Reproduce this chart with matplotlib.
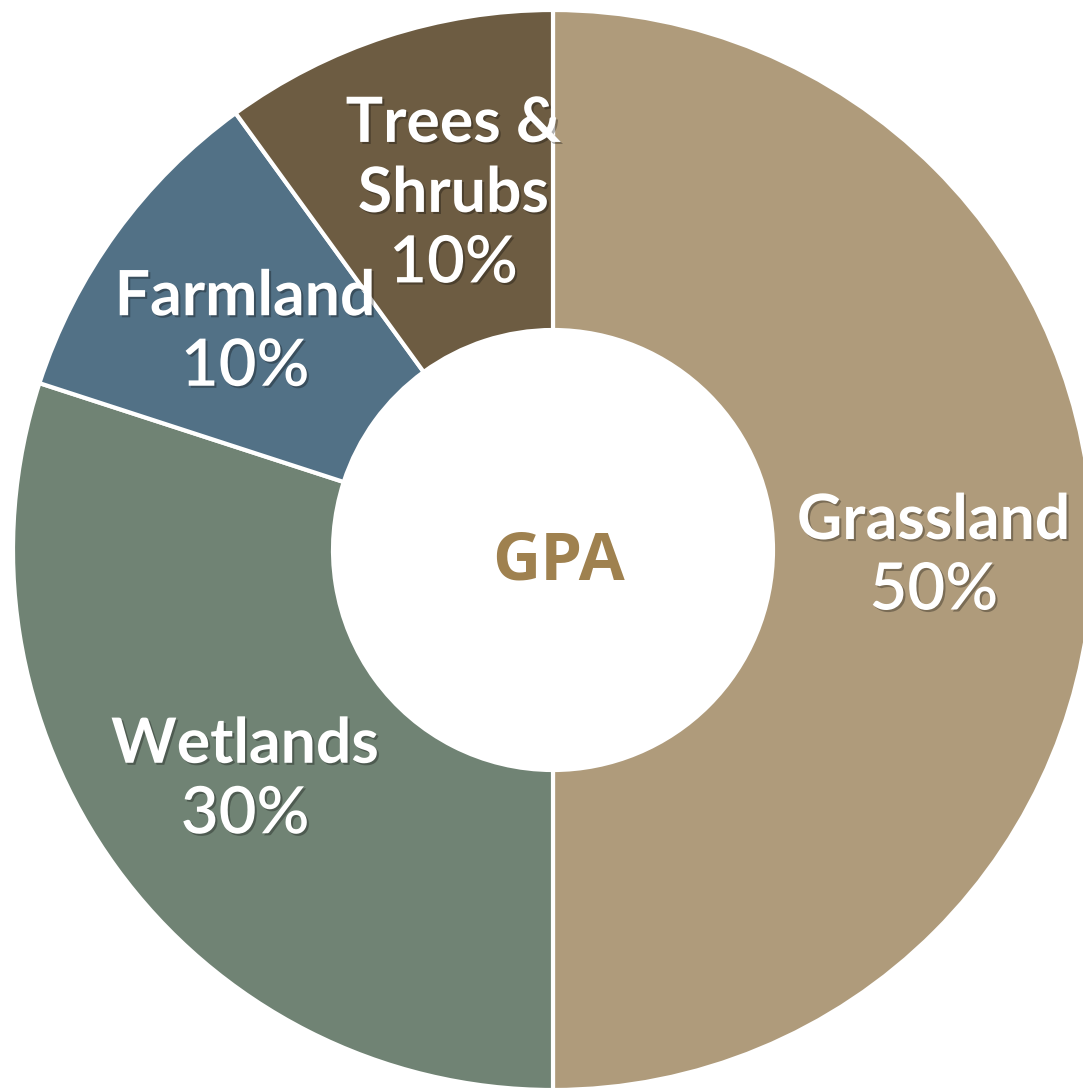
import matplotlib
matplotlib.use("Agg")
import matplotlib.pyplot as plt
import matplotlib.patheffects as pe
import numpy as np

# data
categories = ["Grassland", "Wetlands", "Farmland", "Trees &\nShrubs"]
shares = [50, 30, 10, 10]
colors = ["#AF9B7B", "#708374", "#527186", "#6D5C42"]
center_label = "GPA"

W, H = 1083, 1091
fig = plt.figure(figsize=(W / 100, H / 100), dpi=100)
ax = fig.add_axes([0, 0, 1, 1])

cx, cy, R, r_in = 553, H - 550, 540, 220

wedges, _ = ax.pie(shares, colors=colors, startangle=90, counterclock=False,
                   center=(cx, cy), radius=R, frame=True,
                   wedgeprops=dict(width=R - r_in, edgecolor="white", linewidth=3))
ax.set_xlim(0, W)
ax.set_ylim(0, H)
ax.axis("off")

shadow = [pe.withSimplePatchShadow(offset=(1.5, -1.5), shadow_rgbFace="black", alpha=0.3)]
label_r = 0.705 * R
nudge = {"Trees &\nShrubs": (18, 0)}
line_h = 70

for w, name, val in zip(wedges, categories, shares):
    ang = np.deg2rad((w.theta1 + w.theta2) / 2)
    x = cx + label_r * np.cos(ang)
    y = cy + label_r * np.sin(ang) - 6
    dx, dy = nudge.get(name, (0, 0))
    x += dx
    y += dy
    lines = name.split("\n")
    n = len(lines) + 1
    top = y + (n - 1) * line_h / 2
    for i, ln in enumerate(lines):
        ax.text(x, top - i * line_h, ln, ha="center", va="center", fontsize=45,
                fontweight="bold", family="Lato", color="white", path_effects=shadow)
    ax.text(x, top - len(lines) * line_h, f"{val}%", ha="center", va="center",
            fontsize=47, fontweight="semibold", family="Lato", color="white",
            path_effects=shadow)

ax.text(cx + 5, cy - 12, center_label, ha="center", va="center", fontsize=48,
        fontweight="bold", family="Open Sans", color="#9F814F")

fig.savefig("out.png", dpi=100)
